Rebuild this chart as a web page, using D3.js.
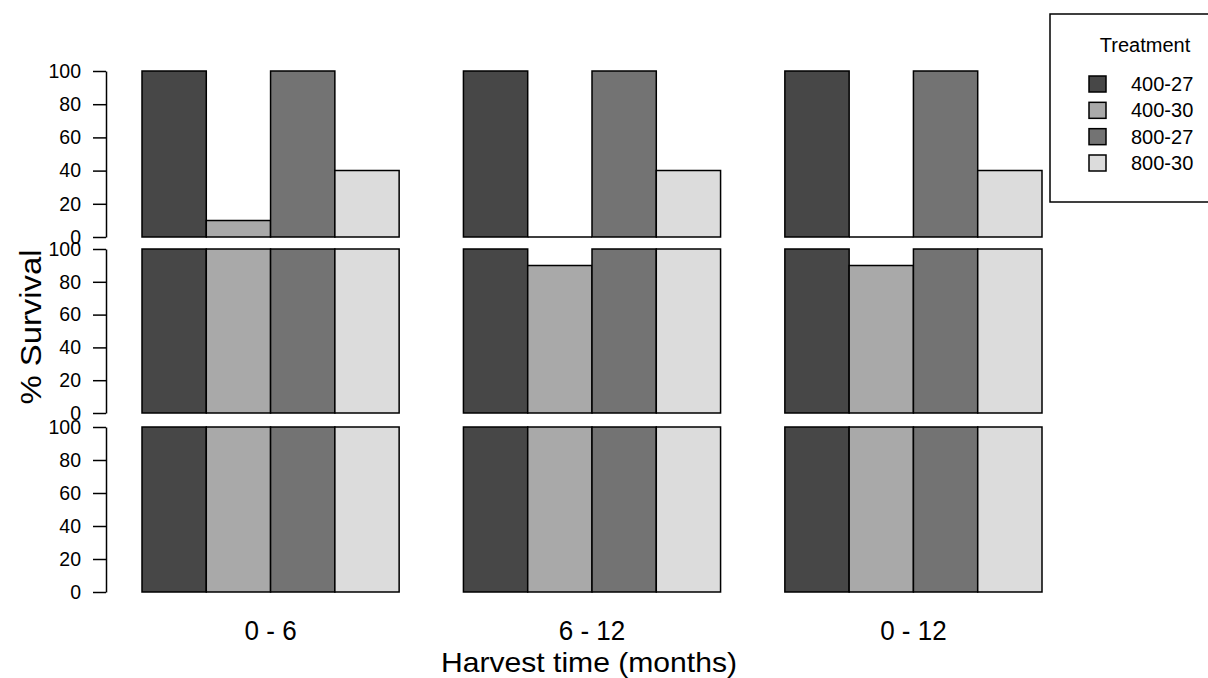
<!doctype html>
<html>
<head>
  <meta charset="utf-8">
  <script src="https://d3js.org/d3.v7.min.js"></script>
  <style>
    body { margin: 0; background: #fff; }
    text { font-family: "Liberation Sans", Arial, sans-serif; fill: #000; }
  </style>
</head>
<body>
  <script>
    // data
    var harvest = ["0 - 6", "6 - 12", "0 - 12"];
    var treatments = ["400-27", "400-30", "800-27", "800-30"];
    var greys = ["#474747", "#a9a9a9", "#737373", "#dcdcdc"];
    var yTicks = [0, 20, 40, 60, 80, 100];

    // one array per panel (top to bottom), each row = one harvest period, values per treatment
    var panelTop = [[100, 10, 100, 40], [100, 0, 100, 40], [100, 0, 100, 40]];
    var panelMid = [[100, 100, 100, 100], [100, 90, 100, 100], [100, 90, 100, 100]];
    var panelBot = [[100, 100, 100, 100], [100, 100, 100, 100], [100, 100, 100, 100]];
    var panels = [panelTop, panelMid, panelBot];

    var width = 1208, height = 678;

    var svg = d3.select("body").append("svg")
      .attr("width", width)
      .attr("height", height);

    // bar positions in R barplot units: 1 unit gap before each group of 4
    var x = d3.scaleLinear().domain([1, 15]).range([142, 1042]);
    function barStart(g, t) { return 1 + g * 5 + t; }

    // vertical extents of the three panels
    var panelY = [[237, 71], [413, 249], [592, 427]];

    panels.forEach(function(panel, p) {
      var y = d3.scaleLinear().domain([0, 100]).range(panelY[p]);
      var g = svg.append("g");

      var cells = [];
      panel.forEach(function(vals, gi) {
        vals.forEach(function(v, ti) { cells.push({g: gi, t: ti, v: v}); });
      });

      // paths so a zero bar still shows its outline
      g.selectAll("path.bar")
        .data(cells)
        .enter().append("path")
          .attr("class", "bar")
          .attr("d", function(d) {
            var x0 = x(barStart(d.g, d.t)), x1 = x(barStart(d.g, d.t) + 1);
            return "M" + x0 + "," + y(0) + "H" + x1 + "V" + y(d.v) + "H" + x0 + "Z";
          })
          .attr("fill", function(d) { return greys[d.t]; })
          .attr("stroke", "#000")
          .attr("stroke-width", 1.5);

      var axis = d3.axisLeft(y)
        .tickValues(yTicks)
        .tickSize(13)
        .tickSizeOuter(0)
        .tickPadding(12);

      var ax = g.append("g")
        .attr("transform", "translate(106,0)")
        .call(axis);
      ax.select(".domain").attr("stroke-width", 1.5);
      ax.selectAll(".tick line").attr("stroke-width", 1.5);
      ax.selectAll(".tick text")
        .attr("font-size", 19.5)
        .attr("font-family", "Liberation Sans, Arial, sans-serif");
    });

    // group labels
    svg.selectAll("text.grp")
      .data(harvest)
      .enter().append("text")
        .attr("class", "grp")
        .attr("text-anchor", "middle")
        .attr("font-size", 28)
        .attr("transform", function(d, i) {
          return "translate(" + x(barStart(i, 0) + 2) + ",640) scale(0.93,1)";
        })
        .text(function(d) { return d; });

    svg.append("text")
      .attr("text-anchor", "middle")
      .attr("font-size", 28)
      .attr("x", 589).attr("y", 672)
      .attr("textLength", 296)
      .attr("lengthAdjust", "spacingAndGlyphs")
      .text("Harvest time (months)");

    svg.append("text")
      .attr("text-anchor", "middle")
      .attr("font-size", 29)
      .attr("transform", "translate(41,327) rotate(-90)")
      .attr("textLength", 155)
      .attr("lengthAdjust", "spacingAndGlyphs")
      .text("% Survival");

    // legend
    var leg = svg.append("g");
    leg.append("rect")
      .attr("x", 1050).attr("y", 14)
      .attr("width", 170).attr("height", 188)
      .attr("fill", "#fff")
      .attr("stroke", "#000")
      .attr("stroke-width", 1.5);
    leg.append("text")
      .attr("text-anchor", "middle")
      .attr("font-size", 20)
      .attr("x", 1145).attr("y", 52)
      .text("Treatment");

    var ly = d3.scalePoint().domain(treatments).range([84, 163]);
    var items = leg.selectAll("g.item")
      .data(treatments)
      .enter().append("g")
        .attr("class", "item")
        .attr("transform", function(d) { return "translate(0," + ly(d) + ")"; });
    items.append("rect")
      .attr("x", 1089).attr("y", -8)
      .attr("width", 17).attr("height", 16)
      .attr("fill", function(d, i) { return greys[i]; })
      .attr("stroke", "#000")
      .attr("stroke-width", 1.5);
    items.append("text")
      .attr("font-size", 20)
      .attr("x", 1131).attr("y", 7)
      .text(function(d) { return d; });
  </script>
</body>
</html>
